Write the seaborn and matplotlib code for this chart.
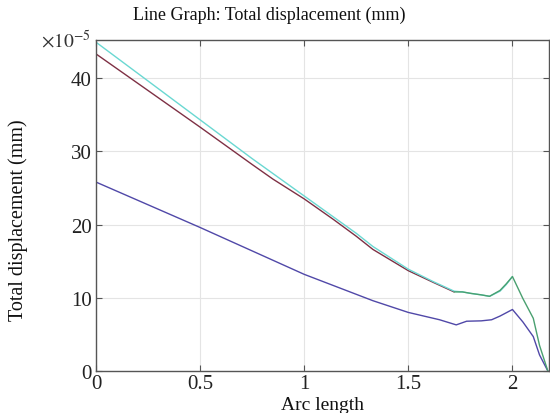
import matplotlib
matplotlib.use("Agg")
import matplotlib.pyplot as plt
import seaborn as sns
import pandas as pd

# ---- data (values in units of 1e-5 mm) ----
x_blue = [0, 0.25, 0.5, 0.75, 1.0, 1.33, 1.5, 1.65, 1.73, 1.78, 1.85, 1.9, 1.94, 2.0, 2.05, 2.10, 2.13, 2.17]
y_blue = [25.8, 22.7, 19.6, 16.4, 13.2, 9.6, 8.0, 7.0, 6.3, 6.8, 6.85, 7.0, 7.5, 8.4, 6.7, 4.7, 2.2, 0.0]

x_red = [0, 0.25, 0.5, 0.75, 0.85, 1.0, 1.14, 1.25, 1.33, 1.5, 1.62, 1.72]
y_red = [43.3, 38.3, 33.3, 28.2, 26.2, 23.5, 20.7, 18.4, 16.6, 13.7, 12.1, 10.8]

x_cyan = [0, 0.25, 0.5, 0.75, 1.0, 1.25, 1.33, 1.5, 1.62, 1.72, 1.76, 1.8, 1.85, 1.89, 1.94, 1.97, 2.0]
y_cyan = [44.9, 39.6, 34.3, 29.0, 23.9, 18.8, 17.0, 13.9, 12.2, 10.9, 10.8, 10.6, 10.4, 10.2, 10.9, 11.8, 12.9]

x_green = [1.72, 1.76, 1.8, 1.85, 1.89, 1.94, 1.97, 2.0, 2.05, 2.10, 2.13, 2.17]
y_green = [10.8, 10.8, 10.6, 10.4, 10.2, 11.0, 11.9, 12.9, 9.9, 7.2, 3.5, 0.0]

x_ticks = [0, 0.5, 1, 1.5, 2]
x_ticklabels = ["0", "0.5", "1", "1.5", "2"]
y_ticks = [0, 10, 20, 30, 40]
y_ticklabels = ["0", "10", "20", "30", "40"]

title = "Line Graph: Total displacement (mm)"
xlabel = "Arc length"
ylabel = "Total displacement (mm)"
scale_text = r"$\times10^{-5}$"

sns.set_theme(style="whitegrid")
plt.rcParams["font.family"] = ["Liberation Serif", "DejaVu Serif"]
plt.rcParams["mathtext.fontset"] = "stix"

fig = plt.figure(figsize=(5.5, 4.14), dpi=100)
ax = fig.add_axes([0.1745, 0.1014, 0.8235, 0.7996])

series = [
    (x_blue, y_blue, "#5048a8"),
    (x_red, y_red, "#7e3044"),
    (x_cyan, y_cyan, "#6ad8d2"),
    (x_green, y_green, "#4aa070"),
]
for xs, ys, col in series:
    df = pd.DataFrame({"x": xs, "y": ys})
    sns.lineplot(data=df, x="x", y="y", ax=ax, color=col, linewidth=1.0,
                 estimator=None, sort=False)

ax.set_xlim(0, 2.175)
ax.set_ylim(0, 45.2)
ax.set_xticks(x_ticks)
ax.set_xticklabels(x_ticklabels)
ax.set_yticks(y_ticks)
ax.set_yticklabels(y_ticklabels)

ax.grid(True, color="#e4e4e4", linewidth=0.8)
ax.set_facecolor("white")
for s in ax.spines.values():
    s.set_visible(True)
    s.set_color("#555555")
    s.set_linewidth(1.0)

ax.tick_params(direction="in", length=4, width=0.8, color="#555555",
               top=True, right=True, bottom=True, left=True,
               labelsize=15, labelcolor="#222222", pad=3)
ax.tick_params(axis="x", pad=2)

ax.set_xlabel(xlabel, fontsize=14, color="#111111", labelpad=2)
ax.set_ylabel(ylabel, fontsize=14.5, color="#111111")
ax.yaxis.set_label_coords(-0.150, 0.46)
fig.suptitle(title, fontsize=13, color="#111111", x=0.49, y=0.985, va="top")

ax.text(-0.012, 1.0, scale_text, transform=ax.transAxes, ha="right", va="center",
        fontsize=14, color="#333333")

fig.savefig("out.png", dpi=100, facecolor="white")
